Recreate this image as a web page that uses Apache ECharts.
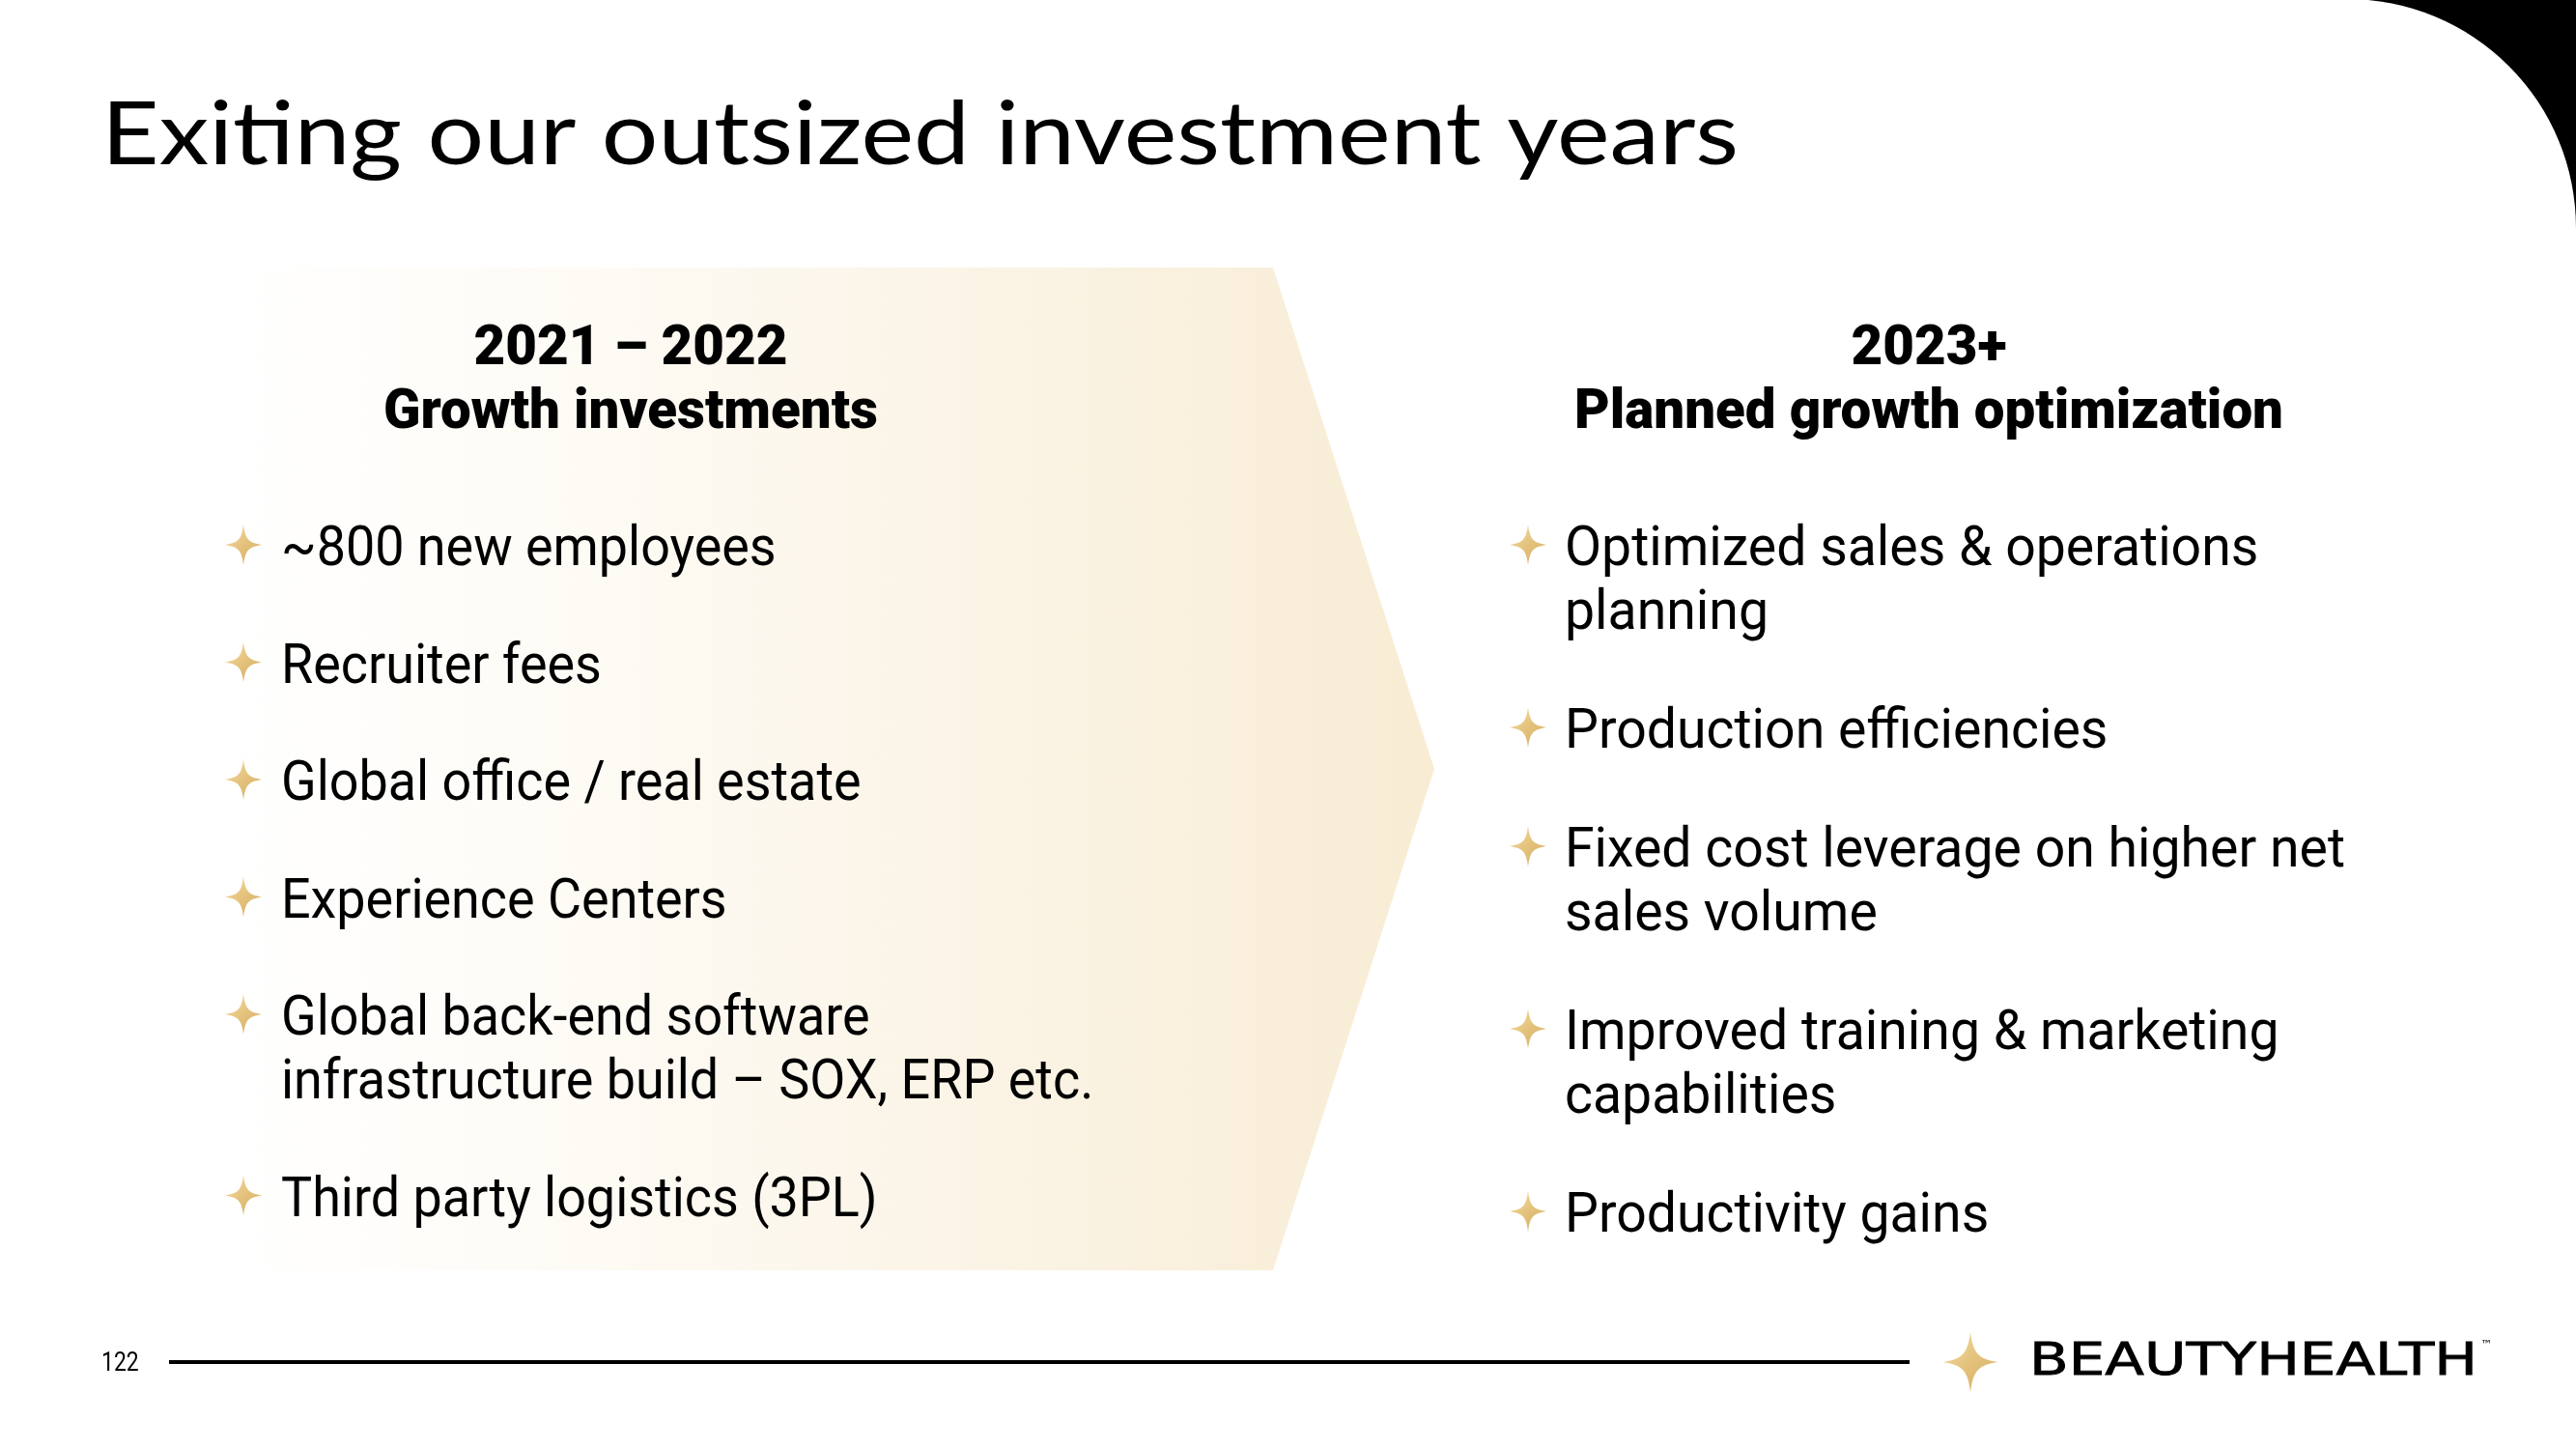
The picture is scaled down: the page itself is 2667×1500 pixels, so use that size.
<!DOCTYPE html>
<html>
<head>
<meta charset="utf-8">
<script src="https://cdn.jsdelivr.net/npm/echarts@6/dist/echarts.min.js"></script>
<style>
  html, body { margin: 0; padding: 0; background: #ffffff; }
  #chart { width: 2667px; height: 1500px; }
</style>
</head>
<body>
<div id="chart"></div>
<script>
// ---- content ----
const TITLE = 'Exiting our outsized investment years';
const LEFT_HEADER = ['2021 – 2022', 'Growth investments'];
const RIGHT_HEADER = ['2023+', 'Planned growth optimization'];
const LEFT_ITEMS = [
  '~800 new employees',
  'Recruiter fees',
  'Global office / real estate',
  'Experience Centers',
  'Global back-end software\ninfrastructure build – SOX, ERP etc.',
  'Third party logistics (3PL)'
];
const RIGHT_ITEMS = [
  'Optimized sales & operations\nplanning',
  'Production efficiencies',
  'Fixed cost leverage on higher net\nsales volume',
  'Improved training & marketing\ncapabilities',
  'Productivity gains'
];
const PAGE_NUMBER = '122';
const BRAND = 'BEAUTYHEALTH';

// ---- helpers ----
const mctx = document.createElement('canvas').getContext('2d');
function measure(text, font) { mctx.font = font; return mctx.measureText(text).width; }
function fit(text, font, w) { return w / measure(text, font); }

// four-point star outline (unit box 0..100), sampled from cubic curves
const STAR_SEGS = [
  [[50, 0], [55, 36], [64, 45], [100, 50]],
  [[100, 50], [64, 55], [55, 64], [50, 100]],
  [[50, 100], [45, 64], [36, 55], [0, 50]],
  [[0, 50], [36, 45], [45, 36], [50, 0]]
];
function starPoints(cx, cy, w, h) {
  const pts = [];
  STAR_SEGS.forEach(s => {
    for (let i = 0; i < 16; i++) {
      const t = i / 16, u = 1 - t;
      const px = u*u*u*s[0][0] + 3*u*u*t*s[1][0] + 3*u*t*t*s[2][0] + t*t*t*s[3][0];
      const py = u*u*u*s[0][1] + 3*u*u*t*s[1][1] + 3*u*t*t*s[2][1] + t*t*t*s[3][1];
      pts.push([cx + (px - 50) / 100 * w, cy + (py - 50) / 100 * h]);
    }
  });
  return pts;
}
function gold() {
  return new echarts.graphic.LinearGradient(0, 0, 1, 1, [
    { offset: 0, color: '#F4DDA2' },
    { offset: 0.5, color: '#E4C27C' },
    { offset: 1, color: '#D4AD62' }
  ]);
}

const FONT_TITLE = '400 92px Lato';
const FONT_HEAD = '900 58px Roboto';
const FONT_BODY = '400 57px Roboto';

const titleScale = fit(TITLE, FONT_TITLE, 1695);
const headScale = fit(RIGHT_HEADER[1], FONT_HEAD, 734);
const leftBodyScale = fit(LEFT_ITEMS[2], FONT_BODY, 616) * 0.975;
const rightBodyScale = fit('Fixed cost leverage on higher net', FONT_BODY, 808);

const g = [];
// top-right corner shape
g.push({ type: 'rect', shape: { x: 2430, y: 0, width: 237, height: 236 }, style: { fill: '#000' }, z: 1 });
g.push({ type: 'circle', shape: { cx: 2430, cy: 236, r: 237 }, style: { fill: '#fff' }, z: 2 });

// chevron
g.push({
  type: 'polygon', z: 3,
  shape: { points: [[230, 277], [1318, 277], [1485, 796], [1318, 1315], [230, 1315]] },
  style: {
    fill: new echarts.graphic.LinearGradient(0, 0, 1, 0, [
      { offset: 0, color: '#FFFFFF' },
      { offset: 0.3, color: '#FEFBF5' },
      { offset: 0.7, color: '#FAF2E2' },
      { offset: 1, color: '#F8ECD4' }
    ])
  }
});

// title
g.push({
  type: 'text', z: 10, x: 105, y: 140, scaleX: titleScale,
  style: { text: TITLE, font: FONT_TITLE, fill: '#000', textAlign: 'left', textVerticalAlign: 'middle' }
});

// headers
function header(lines, cx) {
  lines.forEach((t, i) => {
    g.push({
      type: 'text', z: 10, x: cx, y: 362 + i * 66, scaleX: headScale,
      style: { text: t, font: FONT_HEAD, fill: '#000', textAlign: 'center', textVerticalAlign: 'middle' }
    });
  });
}
header(LEFT_HEADER, 653);
header(RIGHT_HEADER, 1997);

// bullet lists
const LINE_H = 66, FIRST_Y = 571;
function list(items, starX, textX, scale, gap) {
  let y = FIRST_Y;
  items.forEach(t => {
    g.push({
      type: 'polygon', z: 10,
      shape: { points: starPoints(starX, y - 7, 38, 42) },
      style: { fill: gold() }
    });
    g.push({
      type: 'text', z: 10, x: textX, y: y - LINE_H / 2, scaleX: scale,
      style: { text: t, font: FONT_BODY, fill: '#000', textAlign: 'left', textVerticalAlign: 'top', lineHeight: LINE_H }
    });
    const n = t.split('\n').length;
    y += LINE_H * n + gap;
  });
}
list(LEFT_ITEMS, 252, 291, leftBodyScale, 55.5);
list(RIGHT_ITEMS, 1582, 1620, rightBodyScale, 57);

// footer
g.push({
  type: 'text', z: 10, x: 105, y: 1412, scaleX: 0.85,
  style: { text: PAGE_NUMBER, font: '400 27px Roboto', fill: '#000', textAlign: 'left', textVerticalAlign: 'middle' }
});
g.push({ type: 'line', z: 10, shape: { x1: 175, y1: 1410, x2: 1977, y2: 1410 }, style: { stroke: '#000', lineWidth: 4 } });
g.push({
  type: 'polygon', z: 10,
  shape: { points: starPoints(2040, 1410, 58, 62) },
  style: { fill: gold() }
});
const FONT_BRAND = '400 46px "DejaVu Sans"';
g.push({
  type: 'text', z: 10, x: 2101, y: 1411, scaleX: fit(BRAND, FONT_BRAND, 464),
  style: { text: BRAND, font: FONT_BRAND, fill: '#000', stroke: '#000', lineWidth: 0.8, textAlign: 'left', textVerticalAlign: 'middle' }
});
g.push({
  type: 'text', z: 10, x: 2568, y: 1393,
  style: { text: '™', font: '400 12px "DejaVu Sans"', fill: '#000', textAlign: 'left', textVerticalAlign: 'middle' }
});

const chart = echarts.init(document.getElementById('chart'), null, { renderer: 'canvas' });
chart.setOption({
  backgroundColor: '#ffffff',
  animation: false,
  graphic: { elements: g }
});
</script>
</body>
</html>
